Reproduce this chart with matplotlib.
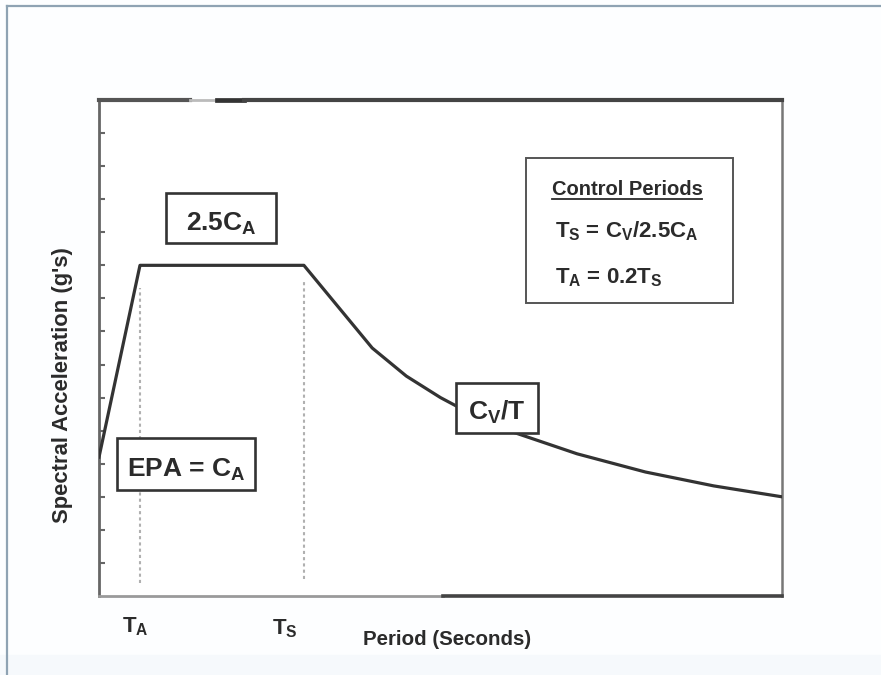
import matplotlib
matplotlib.use("Agg")
import matplotlib.pyplot as plt
from matplotlib.patches import Rectangle
from matplotlib.lines import Line2D

plt.rcParams["font.family"] = ["Liberation Sans", "DejaVu Sans"]
plt.rcParams["mathtext.fontset"] = "custom"
plt.rcParams["mathtext.rm"] = "Liberation Sans"
plt.rcParams["mathtext.bf"] = "Liberation Sans:bold"
plt.rcParams["mathtext.it"] = "Liberation Sans:italic"

# response spectrum (period in s, acceleration in g)
period = [0.0, 0.12, 0.6, 0.8, 0.9, 1.0, 1.1, 1.2, 1.4, 1.6, 1.8, 2.0]
accel = [0.42, 1.0, 1.0, 0.75, 0.665, 0.6, 0.545, 0.5, 0.43, 0.375, 0.333, 0.3]
t_a = 0.12
t_s = 0.6
y_ticks = [0.1, 0.2, 0.3, 0.4, 0.5, 0.6, 0.7, 0.8, 0.9, 1.0, 1.1, 1.2, 1.3, 1.4]

W, H = 881, 675
ink = "#2b2b2b"


def fx(x):
    return x / W


def fy(y):
    return 1 - y / H


fig = plt.figure(figsize=(W / 100, H / 100), dpi=100, facecolor="#fdfeff")

# page frame like the screenshot
fig.add_artist(Rectangle((0, 0), 1, fy(655), transform=fig.transFigure,
                         color="#f6f9fc", zorder=0))
fig.add_artist(Line2D([fx(7), fx(7)], [0, fy(6)], transform=fig.transFigure,
                      color="#8fa3b3", lw=1.6))
fig.add_artist(Line2D([fx(7), 1], [fy(6), fy(6)], transform=fig.transFigure,
                      color="#8fa3b3", lw=1.6))

ax = fig.add_axes([fx(99), fy(596), (782 - 99) / W, (596 - 100) / H])
ax.set_facecolor("white")
ax.set_xlim(0, 2.0)
ax.set_ylim(0, 1.5)
for s in ax.spines.values():
    s.set_visible(False)

# hand-drawn looking frame
ax.plot([0, 0], [0, 1], transform=ax.transAxes, color="#666666", lw=2.0, clip_on=False)
ax.plot([1, 1], [0, 1], transform=ax.transAxes, color="#777777", lw=1.8, clip_on=False)
ax.plot([0, 0.503], [0, 0], transform=ax.transAxes, color="#9a9a9a", lw=2.0, clip_on=False)
ax.plot([0.503, 1], [0, 0], transform=ax.transAxes, color="#444444", lw=2.6, clip_on=False)
ax.plot([0, 0.133], [1, 1], transform=ax.transAxes, color="#555555", lw=3.0, clip_on=False)
ax.plot([0.133, 0.173], [1, 1], transform=ax.transAxes, color="#bbbbbb", lw=2.0, clip_on=False)
ax.plot([0.173, 0.213], [1, 1], transform=ax.transAxes, color="#333333", lw=3.4, clip_on=False)
ax.plot([0.213, 1], [1, 1], transform=ax.transAxes, color="#444444", lw=3.0, clip_on=False)

ax.set_xticks([])
ax.set_yticks(y_ticks)
ax.set_yticklabels([])
ax.tick_params(axis="y", direction="in", length=4, width=1.5, color="#666666")

# control period markers
ax.plot([t_a, t_a], [0.04, 0.93], color="#b0b0b0", lw=1.5, ls=(0, (1.5, 1.5)))
ax.plot([t_s, t_s], [0.05, 0.95], color="#b0b0b0", lw=1.5, ls=(0, (1.5, 1.5)))

ax.plot(period, accel, color="#333333", lw=2.3, solid_joinstyle="round")


def box(x0, y0, x1, y1, lw=1.9, color="#333333"):
    fig.add_artist(Rectangle((fx(x0), fy(y1)), (x1 - x0) / W, (y1 - y0) / H,
                             transform=fig.transFigure, color="white", zorder=4))
    fig.add_artist(Rectangle((fx(x0), fy(y1)), (x1 - x0) / W, (y1 - y0) / H,
                             transform=fig.transFigure, fill=False,
                             ec=color, lw=lw, zorder=5))


def label(x, y, s, size, ha="center", **kw):
    return fig.text(fx(x), fy(y), s, ha=ha, va="baseline", fontsize=size,
                    fontweight="bold", color=ink, zorder=6, **kw)


sub = r"$_\mathbf{%s}$"

box(166, 193, 276, 243)
label(221, 231, "2.5C" + sub % "A", 19)

box(117, 438, 255, 490)
label(186, 477, "EPA = C" + sub % "A", 19)

box(456, 383, 538, 433)
label(497, 420, "C" + sub % "V" + "/T", 19)

box(526, 158, 733, 303, lw=1.4, color="#555555")
title = label(627, 195, "Control Periods", 14.5)
label(555, 237, "T" + sub % "S" + " = C" + sub % "V" + "/2.5C" + sub % "A", 16, ha="left")
label(555, 283, "T" + sub % "A" + " = 0.2T" + sub % "S", 16, ha="left")

# underline for the box title
fig.canvas.draw()
bb = title.get_window_extent().transformed(fig.transFigure.inverted())
fig.add_artist(Line2D([bb.x0, bb.x1], [fy(199), fy(199)], transform=fig.transFigure,
                      color=ink, lw=1.3, zorder=6))

# axis annotations
label(122, 632, "T" + sub % "A", 16, ha="left")
label(272, 634, "T" + sub % "S", 16, ha="left")
label(363, 645, "Period (Seconds)", 14.8, ha="left")
fig.text(fx(63), fy(385), "Spectral Acceleration (g's)", rotation=90,
         ha="center", va="center", fontsize=15.8, fontweight="bold", color=ink)

fig.savefig("out.png", dpi=100, facecolor=fig.get_facecolor())
